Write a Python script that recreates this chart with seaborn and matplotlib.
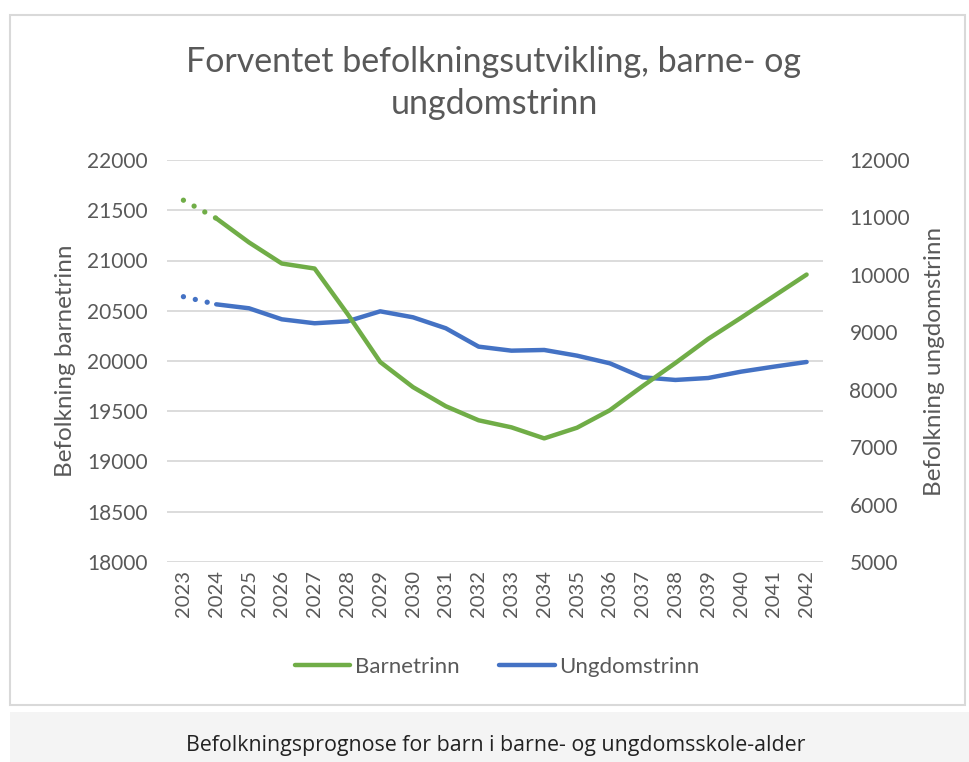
import matplotlib
matplotlib.use("Agg")
import matplotlib.pyplot as plt
import seaborn as sns
import pandas as pd
from matplotlib.lines import Line2D
from matplotlib.patches import Rectangle

# data
years = list(range(2023, 2043))
barnetrinn = [21600, 21420, 21180, 20970, 20920, 20470, 19990, 19740, 19550, 19410,
              19340, 19230, 19336, 19510, 19750, 19980, 20220, 20430, 20645, 20860]
ungdomstrinn = [9620, 9487, 9418, 9226, 9157, 9191, 9365, 9261, 9070, 8750,
                8680, 8692, 8593, 8460, 8216, 8170, 8204, 8314, 8401, 8483]

df = pd.DataFrame({"year": years, "barn": barnetrinn, "ungdom": ungdomstrinn})
df_dot = df.iloc[:2]
df_solid = df.iloc[1:]

sns.set_theme(style="white")
plt.rcParams['font.family'] = ['Lato', 'DejaVu Sans']

GREEN = "#70AD47"
BLUE = "#4472C4"
TXT = "#595959"
GRID = "#D9D9D9"
LW = 3.2

fig = plt.figure(figsize=(9.69, 7.62), dpi=100)
pos = [167 / 969, 1 - 562 / 762, (823 - 167) / 969, (562 - 160) / 762]

# chart border and caption strip
fig.patches.append(Rectangle((10 / 969, 1 - 705 / 762), 955 / 969, 690 / 762,
                             transform=fig.transFigure, fill=False,
                             edgecolor=GRID, linewidth=1.5))
fig.patches.append(Rectangle((10 / 969, 0), 959 / 969, 50 / 762,
                             transform=fig.transFigure, facecolor="#F4F4F4",
                             edgecolor="none"))

# base axis: grid + left ticks
ax = fig.add_axes(pos)
ax.set_xlim(2022.5, 2042.5)
ax.set_ylim(18000, 22000)
ax.set_yticks(range(18000, 22001, 500))
ax.set_xticks(years)
ax.set_xticklabels([str(y) for y in years], rotation=90, fontsize=14.5, color=TXT)
ax.tick_params(axis='y', labelsize=15, colors=TXT, length=0, pad=14)
ax.tick_params(axis='x', length=0, pad=6)
ax.grid(axis='y', color=GRID, linewidth=1.3)
for s in ax.spines.values():
    s.set_visible(False)
ax.set_ylabel("Befolkning barnetrinn", fontsize=17.5, color=TXT, labelpad=8)

# right axis: blue series
ax2 = ax.twinx()
ax2.set_ylim(5000, 12000)
ax2.set_yticks(range(5000, 12001, 1000))
ax2.tick_params(axis='y', labelsize=15, colors=TXT, length=0, pad=19)
for s in ax2.spines.values():
    s.set_visible(False)
ax2.set_ylabel("Befolkning ungdomstrinn", fontsize=17.5, color=TXT, labelpad=10)
sns.lineplot(data=df_solid, x="year", y="ungdom", ax=ax2, color=BLUE,
             linewidth=LW, solid_capstyle='round')
sns.lineplot(data=df_dot, x="year", y="ungdom", ax=ax2, color=BLUE,
             linewidth=LW + 0.6, linestyle=(0, (0.01, 2.3)), dash_capstyle='round')
ax2.set_xlabel("")

# top axis: green series drawn above blue
ax3 = fig.add_axes(pos, sharex=ax, sharey=ax)
ax3.patch.set_visible(False)
ax3.axis('off')
sns.lineplot(data=df_solid, x="year", y="barn", ax=ax3, color=GREEN,
             linewidth=LW, solid_capstyle='round')
sns.lineplot(data=df_dot, x="year", y="barn", ax=ax3, color=GREEN,
             linewidth=LW + 0.6, linestyle=(0, (0.01, 2.3)), dash_capstyle='round')
ax.set_xlabel("")

ax.set_zorder(1)
ax2.set_zorder(2)
ax3.set_zorder(3)

fig.text(494 / 969, 1 - 62 / 762, "Forventet befolkningsutvikling, barne- og",
         ha='center', va='center', fontsize=24.5, color=TXT)
fig.text(494 / 969, 1 - 104 / 762, "ungdomstrinn",
         ha='center', va='center', fontsize=24.5, color=TXT)

handles = [Line2D([], [], color=GREEN, linewidth=LW, solid_capstyle='round'),
           Line2D([], [], color=BLUE, linewidth=LW, solid_capstyle='round')]
fig.legend(handles, ["Barnetrinn", "Ungdomstrinn"], loc='center',
           bbox_to_anchor=(497 / 969, 1 - 667 / 762), ncol=2, frameon=False,
           fontsize=16, labelcolor=TXT, handlelength=2.5, handletextpad=0.2,
           columnspacing=1.8)

fig.text(496 / 969, 1 - 745 / 762,
         "Befolkningsprognose for barn i barne- og ungdomsskole-alder",
         ha='center', va='center', fontsize=15.4, color="#222222",
         family=['Open Sans', 'DejaVu Sans'])

fig.savefig("out.png", dpi=100)
